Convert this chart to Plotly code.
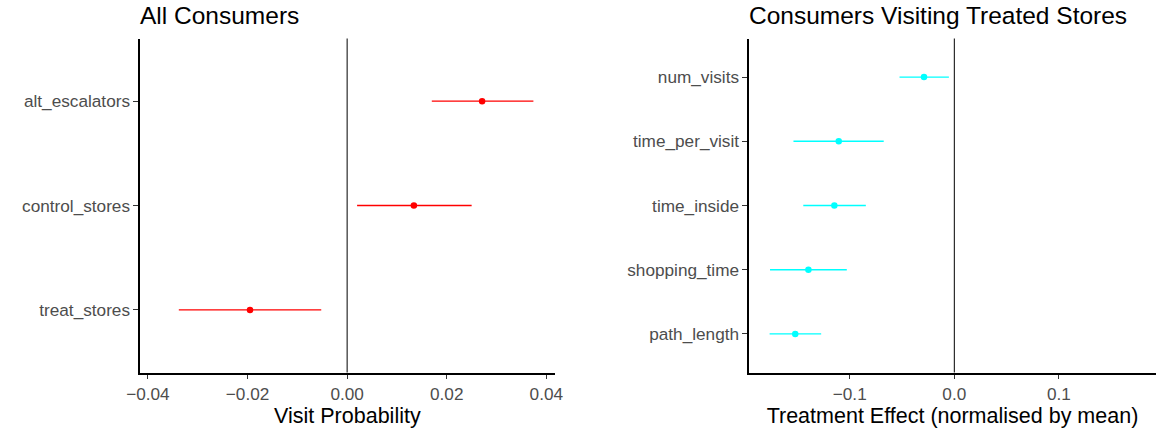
import plotly.graph_objects as go

# ---- data ----
left_terms = ["alt_escalators", "control_stores", "treat_stores"]
left_est = [0.0271, 0.0134, -0.0195]
left_lo = [0.0170, 0.0020, -0.0338]
left_hi = [0.0374, 0.0250, -0.0052]

right_terms = ["num_visits", "time_per_visit", "time_inside", "shopping_time", "path_length"]
right_est = [-0.029, -0.1105, -0.1147, -0.1395, -0.1521]
right_lo = [-0.0524, -0.1538, -0.1444, -0.1762, -0.1766]
right_hi = [-0.0052, -0.0675, -0.0846, -0.1028, -0.1273]

left_ticks = [-0.04, -0.02, 0.0, 0.02, 0.04]
left_ticktext = ["\u22120.04", "\u22120.02", "0.00", "0.02", "0.04"]
right_ticks = [-0.1, 0.0, 0.1]
right_ticktext = ["\u22120.1", "0.0", "0.1"]

W, H = 1165, 430
FONT = "Liberation Sans, Arial, Helvetica, sans-serif"
TICK_COL = "#4D4D4D"
TICK_SIZE = 17.2
AXTITLE_SIZE = 21.5
TITLE_SIZE = 24.5


def segments(terms, lo, hi):
    xs, ys = [], []
    for t, a, b in zip(terms, lo, hi):
        xs += [a, b, None]
        ys += [t, t, None]
    return xs, ys


fig = go.Figure()
for terms, est, lo, hi, col, xa, ya in [
    (left_terms, left_est, left_lo, left_hi, "#FF0000", "x", "y"),
    (right_terms, right_est, right_lo, right_hi, "#00FFFF", "x2", "y2"),
]:
    sx, sy = segments(terms, lo, hi)
    fig.add_trace(go.Scatter(x=sx, y=sy, mode="lines", line=dict(color=col, width=1.3),
                             xaxis=xa, yaxis=ya, showlegend=False, hoverinfo="skip"))
    fig.add_trace(go.Scatter(x=est, y=terms, mode="markers",
                             marker=dict(color=col, size=6.5),
                             xaxis=xa, yaxis=ya, showlegend=False))

ydom = [57.5 / H, 391.5 / H]
axis_common = dict(showline=True, linecolor="black", linewidth=2,
                   ticks="outside", ticklen=4.5, tickwidth=1.3, tickcolor="#333333",
                   showgrid=False, zeroline=False,
                   tickfont=dict(family=FONT, size=TICK_SIZE, color=TICK_COL))

fig.update_layout(
    width=W, height=H, autosize=False,
    margin=dict(l=0, r=0, t=0, b=0),
    paper_bgcolor="white", plot_bgcolor="white",
    font=dict(family=FONT),
    xaxis=dict(domain=[128.5 / W, 551.7 / W], anchor="y", range=[-0.0416, 0.0417],
               tickvals=left_ticks, ticktext=left_ticktext,
               title=dict(text="Visit Probability", font=dict(family=FONT, size=AXTITLE_SIZE, color="black"), standoff=3),
               **axis_common),
    yaxis=dict(domain=ydom, anchor="x", type="category",
               categoryorder="array", categoryarray=left_terms[::-1],
               range=[-0.6, len(left_terms) - 0.4], **axis_common),
    xaxis2=dict(domain=[749.8 / W, 1.0], anchor="y2", range=[-0.1963, 0.1928],
                tickvals=right_ticks, ticktext=right_ticktext,
                title=dict(text="Treatment Effect (normalised by mean)", font=dict(family=FONT, size=AXTITLE_SIZE, color="black"), standoff=3),
                **axis_common),
    yaxis2=dict(domain=ydom, anchor="x2", type="category",
                categoryorder="array", categoryarray=right_terms[::-1],
                range=[-0.6, len(right_terms) - 0.4], **axis_common),
)

for xr, yr in [("x", "y domain"), ("x2", "y2 domain")]:
    fig.add_shape(type="line", xref=xr, yref=yr,
                  x0=0, x1=0, y0=0, y1=1, line=dict(color="black", width=1), layer="below")

for text, x0 in [("All Consumers", 128.5), ("Consumers Visiting Treated Stores", 749.8)]:
    fig.add_annotation(text=text, xref="paper", yref="paper", x=x0 / W, y=1.0,
                       xanchor="left", yanchor="top", showarrow=False, xshift=-1, yshift=-1,
                       borderpad=0,
                       font=dict(family=FONT, size=TITLE_SIZE, color="black"))

fig.write_html("out.html")
